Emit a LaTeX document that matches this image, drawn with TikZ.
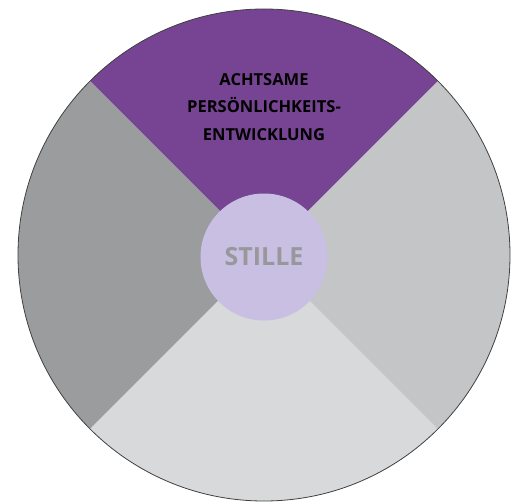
\documentclass[tikz,border=0pt]{standalone}
\usepackage{fontspec}
\setmainfont{Open Sans}
\usepackage{xcolor}
\usetikzlibrary{positioning}
\definecolor{segpurple}{RGB}{118,68,146}
\definecolor{segdark}{RGB}{155,156,158}
\definecolor{segmid}{RGB}{196,197,199}
\definecolor{seglight}{RGB}{216,217,219}
\definecolor{hubfill}{RGB}{201,191,226}
\definecolor{hubtext}{RGB}{152,152,155}

\begin{document}
\begin{tikzpicture}[
  x=1pt,y=1pt,
  every node/.style={font=\bfseries},
  wedge/.style={draw=none},
  rim/.style={draw=black!75,line width=0.8pt},
  hub/.style={circle,fill=hubfill,minimum size=127pt,inner sep=0pt,text=hubtext,
    font=\bfseries\fontsize{25}{25}\selectfont},
  label/.style={align=center,text=black,font=\bfseries\fontsize{16.5}{27.5}\selectfont}
]
  \useasboundingbox (-264,-246) rectangle (255,255);
  \fill[wedge,fill=segpurple] (0,0) -- (45:246) arc[start angle=45,end angle=135,radius=246] -- cycle;
  \fill[wedge,fill=segdark] (0,0) -- (135:246) arc[start angle=135,end angle=225,radius=246] -- cycle;
  \fill[wedge,fill=seglight] (0,0) -- (225:246) arc[start angle=225,end angle=315,radius=246] -- cycle;
  \fill[wedge,fill=segmid] (0,0) -- (315:246) arc[start angle=315,end angle=405,radius=246] -- cycle;
  \draw[rim] (0,0) circle[radius=246];
  \node[hub] (stille) at (0,-2) {STILLE};
  \node[label] (title) at (0,148) {ACHTSAME\\PERSÖNLICHKEITS-\\ENTWICKLUNG};
\end{tikzpicture}
\end{document}
